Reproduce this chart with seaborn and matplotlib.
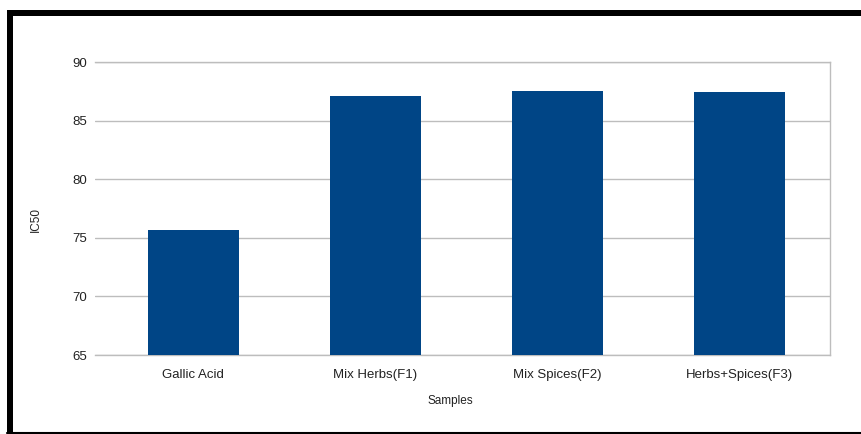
import numpy as np
import pandas as pd
import matplotlib
matplotlib.use("Agg")
import matplotlib.pyplot as plt
from matplotlib.patches import Rectangle
from matplotlib.lines import Line2D
import seaborn as sns

# data
samples = ["Gallic Acid", "Mix Herbs(F1)", "Mix Spices(F2)", "Herbs+Spices(F3)"]
ic50 = [75.7, 87.1, 87.5, 87.4]
y_ticks = [65, 70, 75, 80, 85, 90]

BAR_COLOR = "#004586"
GRID_COLOR = "#bdbdbd"

sns.set_theme(style="white")
plt.rcParams["font.family"] = ["Liberation Sans", "DejaVu Sans"]

df = pd.DataFrame({"Samples": samples, "IC50": ic50})

fig = plt.figure(figsize=(8.61, 4.34), dpi=100)
ax = fig.add_axes([95 / 861, 79 / 434, 735 / 861, 293 / 434])

sns.barplot(data=df, x="Samples", y="IC50", color=BAR_COLOR, width=0.5,
            saturation=1, edgecolor=BAR_COLOR, linewidth=0, ax=ax, zorder=3)

ax.set_ylim(65, 90)
ax.set_xlim(-0.54, len(samples) - 0.5)
ax.set_yticks(y_ticks)
ax.yaxis.grid(True, color=GRID_COLOR, linewidth=1)
ax.set_axisbelow(True)

for side in ["top", "right", "bottom"]:
    ax.spines[side].set_visible(True)
    ax.spines[side].set_color(GRID_COLOR)
    ax.spines[side].set_linewidth(1)
ax.spines["left"].set_visible(False)

ax.tick_params(axis="y", length=0, pad=6, labelsize=9.5, colors="#222222")
ax.tick_params(axis="x", which="major", length=0, pad=10, labelsize=9.5,
               colors="#222222")
ax.set_xticks(np.arange(-0.5, len(samples)), minor=True)
ax.tick_params(axis="x", which="minor", length=5, width=1, color=GRID_COLOR,
               direction="out")

ax.set_xlabel("Samples", fontsize=8.5, color="#222222")
ax.xaxis.set_label_coords(0.484, -0.137)
ax.set_ylabel("IC50", fontsize=8.5, color="#222222")
ax.yaxis.set_label_coords(-0.072, 0.464)

# outer frame lines
fig.add_artist(Rectangle((7 / 861, (434 - 16) / 434), 854 / 861, 6 / 434,
                         transform=fig.transFigure, color="black", lw=0))
fig.add_artist(Rectangle((7 / 861, 0), 6 / 861, (434 - 10) / 434,
                         transform=fig.transFigure, color="black", lw=0))
fig.add_artist(Line2D([7 / 861, 1], [1.5 / 434, 1.5 / 434],
                      transform=fig.transFigure, color="black", lw=1.5))

fig.savefig("out.png", dpi=100)
